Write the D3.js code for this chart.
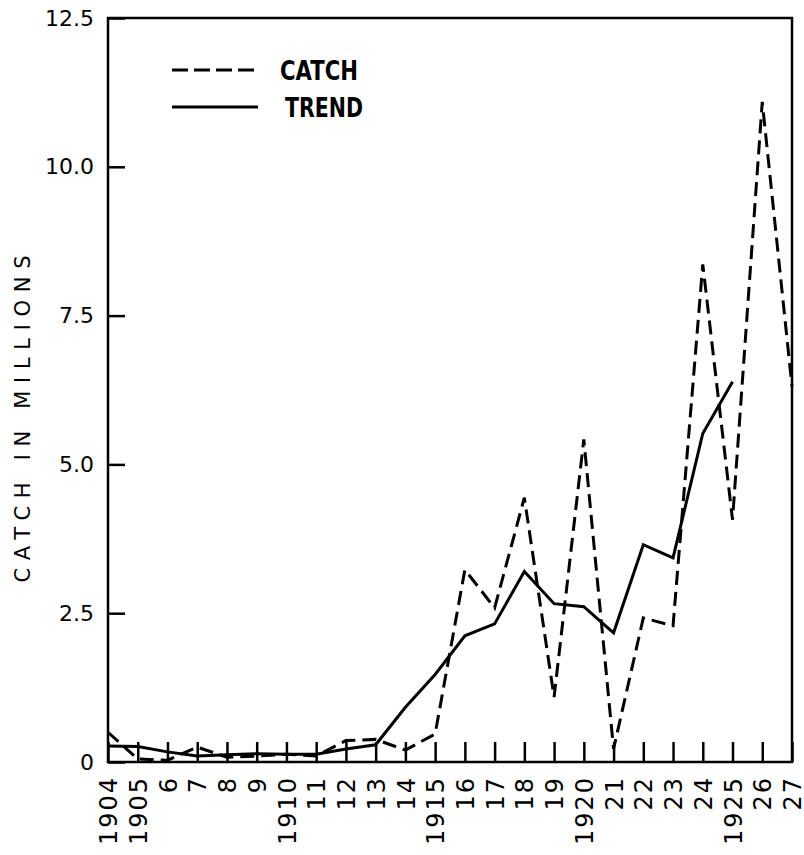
<!DOCTYPE html>
<html>
<head>
<meta charset="utf-8">
<script src="https://cdn.jsdelivr.net/npm/d3@7"></script>
<style>
  body { margin: 0; background: #fff; }
  svg { display: block; }
  text { fill: #000; }
</style>
</head>
<body>
<script>
const width = 804;
const height = 855;
const marginTop = 18;
const marginRight = 12;
const marginBottom = 93;
const marginLeft = 108;

// data (millions)
const years = d3.range(1904, 1928);
const catchValues = [0.5, 0.05, 0.03, 0.25, 0.08, 0.1, 0.13, 0.1, 0.36, 0.38, 0.2, 0.47,
                     3.23, 2.59, 4.44, 1.09, 5.42, 0.22, 2.42, 2.29, 8.36, 4.07, 11.09, 6.31];
const trendYears = d3.range(1904, 1926);
const trendValues = [0.27, 0.26, 0.17, 0.1, 0.12, 0.14, 0.13, 0.13, 0.22, 0.29, 0.92, 1.47,
                     2.12, 2.32, 3.2, 2.66, 2.61, 2.17, 3.65, 3.43, 5.52, 6.39];
const xTickLabels = ["1904", "1905", "6", "7", "8", "9", "1910", "11", "12", "13", "14", "1915",
                     "16", "17", "18", "19", "1920", "21", "22", "23", "24", "1925", "26", "27"];
const yTicks = [0, 2.5, 5, 7.5, 10, 12.5];
const yTickLabels = ["0", "2.5", "5.0", "7.5", "10.0", "12.5"];

const x = d3.scaleLinear()
  .domain([1904, 1927])
  .range([marginLeft, width - marginRight]);

const y = d3.scaleLinear()
  .domain([0, 12.5])
  .range([height - marginBottom, marginTop]);

const svg = d3.select("body").append("svg")
  .attr("width", width)
  .attr("height", height)
  .attr("viewBox", [0, 0, width, height]);

// frame
svg.append("rect")
  .attr("x", marginLeft)
  .attr("y", marginTop)
  .attr("width", width - marginRight - marginLeft)
  .attr("height", height - marginBottom - marginTop)
  .attr("fill", "none")
  .attr("stroke", "#000")
  .attr("stroke-width", 2.5);

// y axis, ticks pointing inwards
const yAxis = svg.append("g")
  .attr("transform", `translate(${marginLeft},0)`)
  .call(d3.axisLeft(y)
    .tickValues(yTicks)
    .tickSize(-17)
    .tickPadding(14)
    .tickFormat((d, i) => yTickLabels[i]));
yAxis.select(".domain").remove();
yAxis.selectAll(".tick line").attr("stroke", "#000").attr("stroke-width", 2.5);
yAxis.selectAll(".tick text")
  .style("font-family", "'DejaVu Sans', sans-serif")
  .style("font-size", "22px");

// x axis, ticks pointing up, labels turned
const xAxis = svg.append("g")
  .attr("transform", `translate(0,${height - marginBottom})`)
  .call(d3.axisBottom(x)
    .tickValues(years)
    .tickSize(-20)
    .tickFormat((d, i) => xTickLabels[i]));
xAxis.select(".domain").remove();
xAxis.selectAll(".tick line").attr("stroke", "#000").attr("stroke-width", 2.5);
xAxis.selectAll(".tick text")
  .attr("transform", "rotate(-90)")
  .attr("text-anchor", "end")
  .attr("x", -14)
  .attr("y", 0)
  .attr("dy", "0.36em")
  .style("font-family", "'DejaVu Sans', sans-serif")
  .style("font-size", "24px")
  .style("letter-spacing", "2px");

// y title
svg.append("text")
  .text("CATCH IN MILLIONS")
  .attr("transform", "translate(30,419) rotate(-90)")
  .attr("text-anchor", "middle")
  .attr("textLength", 327)
  .attr("lengthAdjust", "spacing")
  .style("font-family", "'DejaVu Sans', sans-serif")
  .style("font-size", "21px");

// lines
const catchLine = d3.line()
  .x((d, i) => x(years[i]))
  .y(d => y(d));
const trendLine = d3.line()
  .x((d, i) => x(trendYears[i]))
  .y(d => y(d));

svg.append("path")
  .datum(catchValues)
  .attr("d", catchLine)
  .attr("fill", "none")
  .attr("stroke", "#000")
  .attr("stroke-width", 3)
  .attr("stroke-dasharray", "14,7");

svg.append("path")
  .datum(trendValues)
  .attr("d", trendLine)
  .attr("fill", "none")
  .attr("stroke", "#000")
  .attr("stroke-width", 3);

// legend
svg.append("line")
  .attr("x1", 172).attr("x2", 258)
  .attr("y1", 70).attr("y2", 70)
  .attr("stroke", "#000")
  .attr("stroke-width", 3)
  .attr("stroke-dasharray", "16,6");
svg.append("line")
  .attr("x1", 172).attr("x2", 258)
  .attr("y1", 107).attr("y2", 107)
  .attr("stroke", "#000")
  .attr("stroke-width", 3);
svg.append("text")
  .text("CATCH")
  .attr("x", 280).attr("y", 80)
  .attr("textLength", 78)
  .attr("lengthAdjust", "spacingAndGlyphs")
  .style("font-family", "'DejaVu Sans', sans-serif")
  .style("font-weight", "bold")
  .style("font-size", "27px");
svg.append("text")
  .text("TREND")
  .attr("x", 285).attr("y", 117)
  .attr("textLength", 78)
  .attr("lengthAdjust", "spacingAndGlyphs")
  .style("font-family", "'DejaVu Sans', sans-serif")
  .style("font-weight", "bold")
  .style("font-size", "27px");
</script>
</body>
</html>
